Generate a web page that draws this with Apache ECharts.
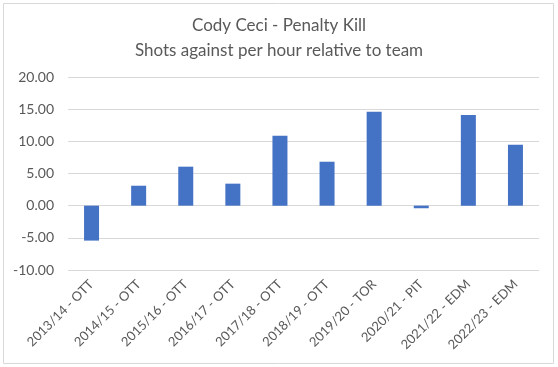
<!DOCTYPE html>
<html><head><meta charset="utf-8">
<script src="https://cdn.jsdelivr.net/npm/echarts@6/dist/echarts.min.js"></script>
<style>html,body{margin:0;padding:0;background:#fff}#c{width:558px;height:367px}</style>
</head><body><div id="c"></div>
<script>
const categories = ["2013/14 - OTT","2014/15 - OTT","2015/16 - OTT","2016/17 - OTT","2017/18 - OTT","2018/19 - OTT","2019/20 - TOR","2020/21 - PIT","2021/22 - EDM","2022/23 - EDM"];
const values = [-5.43, 3.1, 6.06, 3.42, 10.87, 6.83, 14.6, -0.4, 14.1, 9.47];
const titleLines = ["Cody Ceci - Penalty Kill", "Shots against per hour relative to team"];
const font = "Lato, 'Open Sans', sans-serif";
const chart = echarts.init(document.getElementById('c'));
chart.setOption({
  animation: false,
  graphic: [{type:'rect', shape:{x:3.5,y:3.5,width:550,height:360}, style:{fill:'none', stroke:'#d9d9d9', lineWidth:1}, silent:true}],
  title: {text: titleLines.join('\n'), left: 'center', top: 8,
    textStyle:{fontFamily:font, fontSize:17, fontWeight:'normal', color:'#595959', lineHeight:25}},
  grid: {left: 68, right: 19, top: 77, bottom: 97},
  xAxis: {type:'category', data: categories,
    axisLine:{show:false}, axisTick:{show:false},
    axisLabel:{rotate:45, interval:0, fontFamily:font, fontSize:13, color:'#595959', margin:12}},
  yAxis: {type:'value', min:-10, max:20, interval:5,
    axisLabel:{formatter: v => v.toFixed(2), fontFamily:font, fontSize:14, color:'#595959', margin:14},
    splitLine:{lineStyle:{color:'#d9d9d9'}}, axisLine:{show:false}, axisTick:{show:false}},
  series: [{type:'bar', data: values, barWidth: 15, itemStyle:{color:'#4472c4'}}]
});
</script></body></html>
